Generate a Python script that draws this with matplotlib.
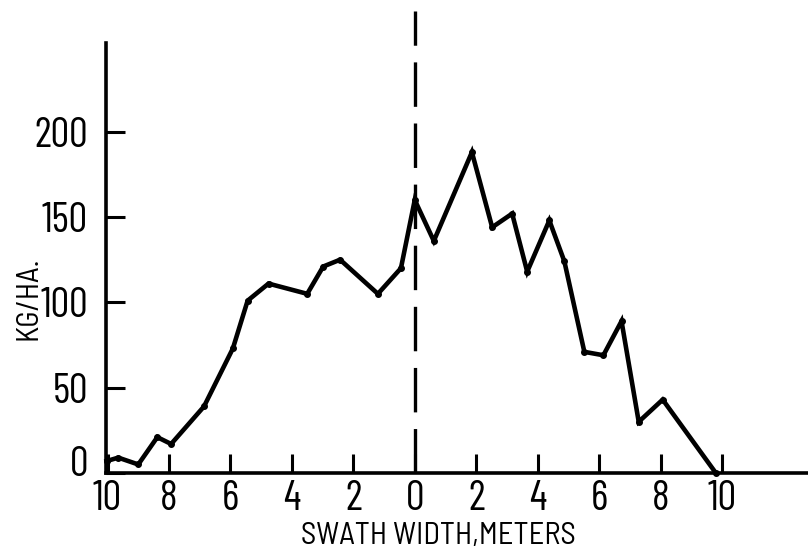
import matplotlib
matplotlib.use("Agg")
import matplotlib.pyplot as plt
from matplotlib.transforms import ScaledTranslation

plt.rcParams['font.family'] = ['Barlow Condensed', 'DejaVu Sans']

# swath position (m), negative = left of flight line
swath_x = [-10.03, -9.65, -9.0, -8.38, -7.93, -6.86, -5.92, -5.44, -4.76,
           -3.5, -2.98, -2.43, -1.2, -0.45, 0.0, 0.62, 1.86, 2.52, 3.17,
           3.66, 4.38, 4.87, 5.52, 6.14, 6.73, 7.29, 8.07, 9.8]
# deposit, kg/ha
deposit = [7, 9, 5, 21, 17, 39, 73, 101, 111, 105, 121, 125, 105, 120, 160,
           136, 188, 144, 152, 118, 148, 124, 71, 69, 89, 30, 43, 0]

x_ticks = [-10, -8, -6, -4, -2, 0, 2, 4, 6, 8, 10]
x_labels = ['10', '8', '6', '4', '2', '0', '2', '4', '6', '8', '10']
y_ticks = [0, 50, 100, 150, 200]

fig = plt.figure(figsize=(8.08, 5.54), dpi=100)
ax = fig.add_axes([106/808, 81/554, 1 - 106/808, 430/554])

ax.plot(swath_x, deposit, color='black', lw=3.3, marker='o', ms=4,
        solid_joinstyle='miter', clip_on=False, zorder=3)

# flight line
lw_d = 2.4
ax.plot([0, 0], [0, 271], color='black', lw=lw_d,
        ls=(0, (32/lw_d, 12/lw_d)), clip_on=False)

ax.set_xlim(-10.05, 12.8)
ax.set_ylim(0, 252)

for s in ['top', 'right']:
    ax.spines[s].set_visible(False)
for s in ['left', 'bottom']:
    ax.spines[s].set_linewidth(2.6)

ax.set_xticks(x_ticks)
ax.set_xticklabels(x_labels)
ax.set_yticks(y_ticks)
ax.tick_params(axis='both', direction='in', length=14, width=2.2,
               labelsize=30)
ax.tick_params(axis='x', pad=5)
ax.tick_params(axis='y', pad=13)

# the "0" on the y axis sits a little above the baseline
lab0 = ax.yaxis.get_major_ticks()[0].label1
lab0.set_transform(lab0.get_transform() + ScaledTranslation(0, 12/100, fig.dpi_scale_trans))

fig.text(438/808, 1 - 536/554, 'SWATH WIDTH,METERS', fontsize=22,
         family=['Barlow Semi Condensed', 'DejaVu Sans'],
         ha='center', va='center')
fig.text(29/808, 1 - 298/554, 'KG/HA.', fontsize=22, rotation=90,
         family=['Barlow Semi Condensed', 'DejaVu Sans'],
         ha='center', va='center')

fig.savefig('out.png', dpi=100)
